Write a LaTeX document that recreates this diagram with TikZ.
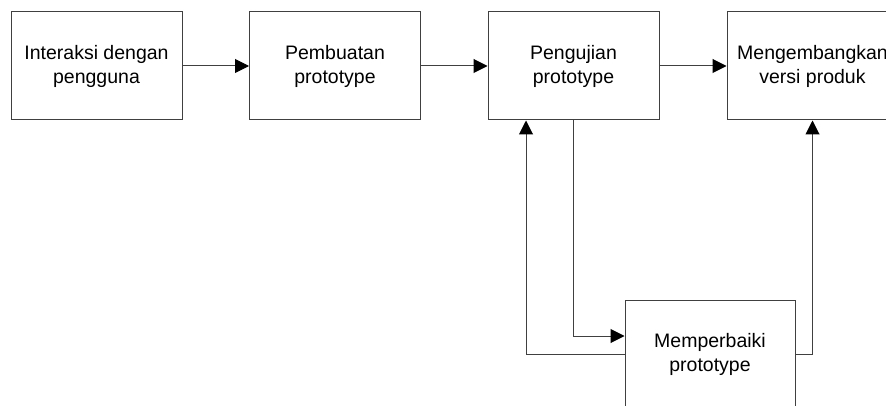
\documentclass[tikz,border=0pt]{standalone}
\usepackage{fontspec}
\setmainfont{Liberation Sans}
\usetikzlibrary{arrows.meta}
\begin{document}
\begin{tikzpicture}[x=1pt,y=-1pt,
  stagebox/.style={draw=black!75, line width=1pt, minimum width=171pt,
    minimum height=108pt, align=center, inner sep=0pt, fill=white,
    font=\fontsize{19.5}{24}\selectfont},
  flow/.style={draw=black!75, line width=1pt,
    -{Triangle[length=14pt,width=14pt,color=black]}}]
\useasboundingbox (0,0) rectangle (886,406);
% process stages
\node[stagebox] (a) at (96.5,66)  {Interaksi dengan\\pengguna};
\node[stagebox] (b) at (335,66)   {Pembuatan\\prototype};
\node[stagebox] (c) at (573.5,66) {Pengujian\\prototype};
\node[stagebox] (d) at (812.5,66) {Mengembangkan\\versi produk};
\node[stagebox, minimum width=170pt] (e) at (710,354) {Memperbaiki\\prototype};
% main flow
\draw[flow] (a) -- (b);
\draw[flow] (b) -- (c);
\draw[flow] (c) -- (d);
% feedback loop
\draw[flow] (c.south) |- ([yshift=18pt]e.west);
\draw[flow] (e.west) -| ([xshift=-47.5pt]c.south);
\draw[flow] (e.east) -| (d.south);
\end{tikzpicture}
\end{document}
